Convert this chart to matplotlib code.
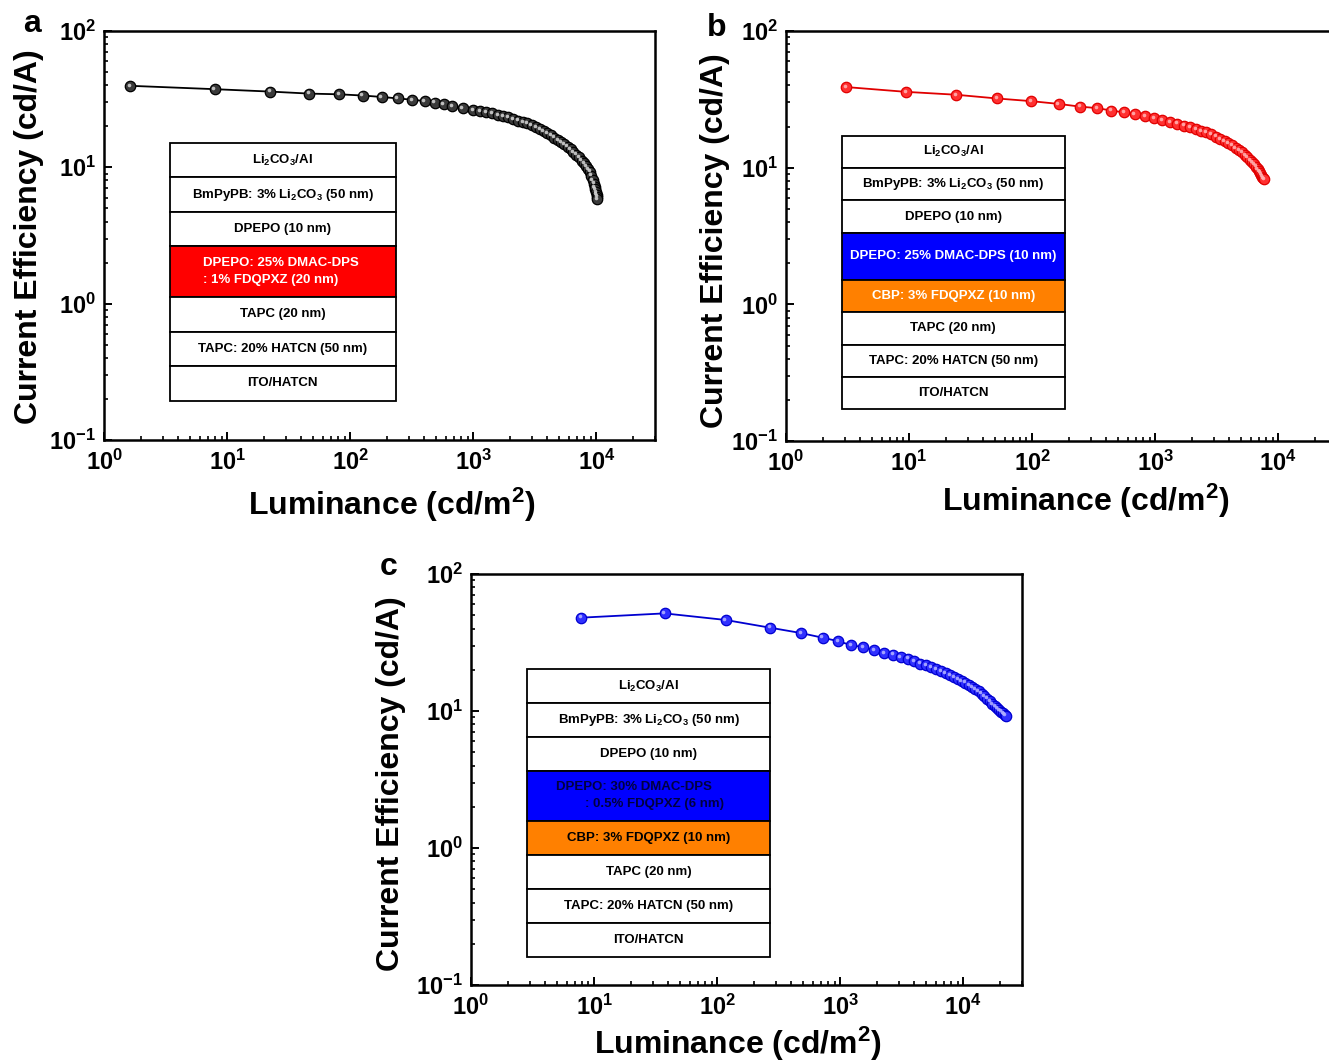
import numpy as np
import matplotlib
matplotlib.use('Agg')
import matplotlib.pyplot as plt
from matplotlib.patches import Rectangle
from matplotlib.ticker import FuncFormatter, LogLocator, NullFormatter
from matplotlib.transforms import offset_copy

plt.rcParams['font.family'] = ['Liberation Sans', 'DejaVu Sans']
plt.rcParams['font.weight'] = 'bold'
plt.rcParams['mathtext.fontset'] = 'custom'
plt.rcParams['mathtext.rm'] = 'Liberation Sans:bold'
plt.rcParams['mathtext.it'] = 'Liberation Sans:bold'
plt.rcParams['mathtext.bf'] = 'Liberation Sans:bold'
plt.rcParams['mathtext.sf'] = 'Liberation Sans:bold'

# ---------------- device a (black) ----------------
lum_a = [1.62, 7.9, 22.5, 46.5, 80.7, 126, 180, 243, 319, 402, 485, 574, 674, 818,
         1000, 1130, 1270, 1420, 1580, 1750, 1930, 2120, 2320, 2530, 2750, 2980,
         3220, 3470, 3730, 4000, 4280, 4570, 4870, 5180, 5500, 5830, 6170, 6520,
         6880, 7240, 7600, 7950, 8280, 8590, 8870, 9120, 9340, 9530, 9690, 9830,
         9950, 10050, 10130, 10190]
ce_a = [39.6, 37.4, 35.9, 34.7, 34.3, 33.6, 32.8, 32.0, 31.3, 30.6, 29.8, 28.9, 28.2, 27.0,
        26.2, 25.8, 25.3, 24.8, 24.3, 23.8, 23.2, 22.6, 22.0, 21.5, 21.0, 20.3,
        19.7, 19.1, 18.4, 17.8, 17.2, 16.5, 15.9, 15.3, 14.7, 14.2, 13.6, 13.0,
        12.4, 11.8, 11.2, 10.7, 10.2, 9.7, 9.3, 8.7, 8.1, 7.6, 7.2, 6.9,
        6.6, 6.3, 6.1, 5.85]

# ---------------- device b (red) ----------------
lum_b = [3.1, 9.4, 24, 52, 98, 164, 244, 336, 441, 557, 681, 824, 975, 1143, 1320,
         1510, 1710, 1920, 2140, 2370, 2610, 2860, 3120, 3390, 3660, 3940, 4220,
         4500, 4780, 5060, 5340, 5610, 5870, 6120, 6360, 6580, 6790, 6980, 7150,
         7300, 7430, 7540, 7620]
ce_b = [38.9, 35.9, 34.2, 32.1, 30.7, 29.3, 28.0, 27.3, 26.2, 25.4, 24.6, 23.9, 23.1, 22.2, 21.6,
        21.0, 20.3, 19.7, 19.1, 18.6, 18.1, 17.5, 16.9, 16.3, 15.7, 15.1, 14.6,
        14.0, 13.5, 13.0, 12.4, 11.9, 11.4, 11.0, 10.6, 10.2, 9.8, 9.5, 9.2,
        8.9, 8.6, 8.4, 8.3]

# ---------------- device c (blue) ----------------
lum_c = [7.8, 37.4, 117, 268, 478, 718, 955, 1220, 1545, 1890, 2280, 2670, 3090, 3540,
         4000, 4480, 4980, 5500, 6040, 6600, 7180, 7780, 8400, 9040, 9700, 10380,
         11080, 11800, 12540, 13300, 14070, 14850, 15640, 16440, 17240, 18040,
         18830, 19600, 20340, 21040, 21660, 22100]
ce_c = [48.0, 51.6, 46.2, 40.6, 37.1, 34.3, 32.4, 30.3, 29.2, 27.9, 26.6, 25.8, 24.9, 24.1,
        23.1, 22.2, 21.5, 20.8, 20.1, 19.5, 18.9, 18.3, 17.7, 17.1, 16.6, 16.1,
        15.5, 14.9, 14.4, 13.9, 13.4, 12.8, 12.3, 11.8, 11.3, 10.9,
        10.5, 10.2, 9.9, 9.6, 9.4, 9.25]

# device stacks, top layer first
li2co3 = r'Li$_2$CO$_3$/Al'
bmpypb = r'BmPyPB: 3% Li$_2$CO$_3$ (50 nm)'
layers_a = [li2co3, bmpypb, 'DPEPO (10 nm)',
            'DPEPO: 25% DMAC-DPS\n: 1% FDQPXZ (20 nm)',
            'TAPC (20 nm)', 'TAPC: 20% HATCN (50 nm)', 'ITO/HATCN']
layers_b = [li2co3, bmpypb, 'DPEPO (10 nm)', 'DPEPO: 25% DMAC-DPS (10 nm)',
            'CBP: 3% FDQPXZ (10 nm)', 'TAPC (20 nm)', 'TAPC: 20% HATCN (50 nm)', 'ITO/HATCN']
layers_c = [li2co3, bmpypb, 'DPEPO (10 nm)',
            'DPEPO: 30% DMAC-DPS\n        : 0.5% FDQPXZ (6 nm)',
            'CBP: 3% FDQPXZ (10 nm)', 'TAPC (20 nm)', 'TAPC: 20% HATCN (50 nm)', 'ITO/HATCN']

RED, BLUE, ORANGE = '#ff0000', '#0000ff', '#ff8000'
fill_a = ['white', 'white', 'white', RED, 'white', 'white', 'white']
txt_a = ['black', 'black', 'black', 'white', 'black', 'black', 'black']
fill_b = ['white', 'white', 'white', BLUE, ORANGE, 'white', 'white', 'white']
txt_b = ['black', 'black', 'black', 'white', 'white', 'black', 'black', 'black']
fill_c = ['white', 'white', 'white', BLUE, ORANGE, 'white', 'white', 'white']
txt_c = ['black', 'black', 'black', '#000040', 'black', 'black', 'black', 'black']


def sci(v, pos):
    return r'$10^{%d}$' % round(np.log10(v))


def setup(ax):
    ax.set_xscale('log')
    ax.set_yscale('log')
    ax.set_xlim(1, 3e4)
    ax.set_ylim(0.1, 100)
    for ax_ in (ax.xaxis, ax.yaxis):
        ax_.set_major_locator(LogLocator(base=10, numticks=10))
        ax_.set_minor_locator(LogLocator(base=10, subs=np.arange(2, 10), numticks=20))
        ax_.set_major_formatter(FuncFormatter(sci))
        ax_.set_minor_formatter(NullFormatter())
    ax.tick_params(which='both', direction='in', top=False, right=False, labelsize=17)
    ax.tick_params(which='major', length=6, width=1.4)
    ax.tick_params(which='minor', length=3, width=1.2)
    ax.tick_params(axis='x', pad=7)
    ax.tick_params(axis='y', pad=6)
    for s in ax.spines.values():
        s.set_linewidth(1.8)
    ax.set_xlabel(r'Luminance (cd/m$^{2}$)', fontsize=23, fontweight='bold')
    ax.set_ylabel('Current Efficiency (cd/A)', fontsize=23, fontweight='bold')


def curve(ax, x, y, color, face, shine):
    ax.plot(x, y, '-', color=color, lw=1.3, zorder=3)
    ax.plot(x, y, 'o', ms=7.5, mfc=face, mec=color, mew=0.9, zorder=4)
    glow = offset_copy(ax.transData, fig=ax.figure, x=-1.2, y=1.2, units='dots')
    ax.plot(x, y, 'o', ms=2.6, mfc=shine, mec='none', alpha=0.9, zorder=5, transform=glow)


def stack(ax, x0, x1, edges, labels, fills, colors, left=None):
    for i, lab in enumerate(labels):
        top, bot = edges[i], edges[i + 1]
        ax.add_patch(Rectangle((x0, bot), x1 - x0, top - bot, transform=ax.transAxes,
                               facecolor=fills[i], edgecolor='black', lw=1.3, zorder=6))
        if left is not None and i in left:
            ax.text(left[i], (top + bot) / 2, lab, transform=ax.transAxes, ha='left',
                    va='center', fontsize=9.5, color=colors[i], linespacing=1.5, zorder=7)
        else:
            ax.text((x0 + x1) / 2, (top + bot) / 2, lab, transform=ax.transAxes, ha='center',
                    va='center', fontsize=9.5, color=colors[i], linespacing=1.5, zorder=7)


fig = plt.figure(figsize=(13.29, 10.63), dpi=100)
ax_a = fig.add_axes([0.0783, 0.5861, 0.4146, 0.3848])
ax_b = fig.add_axes([0.5914, 0.5851, 0.4146, 0.3857])
ax_c = fig.add_axes([0.3544, 0.0734, 0.4146, 0.3866])

for ax in (ax_a, ax_b, ax_c):
    setup(ax)

curve(ax_a, lum_a, ce_a, 'black', '#3a3a3a', '#d0d0d0')
curve(ax_b, lum_b, ce_b, '#e00000', '#ff3030', '#ffb0b0')
curve(ax_c, lum_c, ce_c, '#0000d0', '#3030ff', '#b0b0ff')

stack(ax_a, 0.119, 0.530, [0.727, 0.642, 0.557, 0.473, 0.350, 0.265, 0.181, 0.096],
      layers_a, fill_a, txt_a, left={3: 0.179})
stack(ax_b, 0.101, 0.506, [0.744, 0.667, 0.587, 0.508, 0.393, 0.315, 0.235, 0.156, 0.078],
      layers_b, fill_b, txt_b)
stack(ax_c, 0.1025, 0.542, [0.768, 0.685, 0.603, 0.521, 0.400, 0.316, 0.234, 0.150, 0.067],
      layers_c, fill_c, txt_c, left={3: 0.155})

# label anchors: x label by its top edge, y label by its right edge
ax_a.xaxis.set_label_coords(0.523, -0.113)
ax_a.yaxis.set_label_coords(-0.109, 0.496)
ax_b.xaxis.set_label_coords(0.544, -0.10)
ax_b.yaxis.set_label_coords(-0.101, 0.49)
ax_c.xaxis.set_label_coords(0.485, -0.097)
ax_c.yaxis.set_label_coords(-0.118, 0.49)

fig.text(0.0173, 0.970, 'a', fontsize=23, fontweight='bold', ha='left', va='baseline')
fig.text(0.532, 0.966, 'b', fontsize=23, fontweight='bold', ha='left', va='baseline')
fig.text(0.286, 0.459, 'c', fontsize=23, fontweight='bold', ha='left', va='baseline')

fig.savefig('out.png', dpi=100)
